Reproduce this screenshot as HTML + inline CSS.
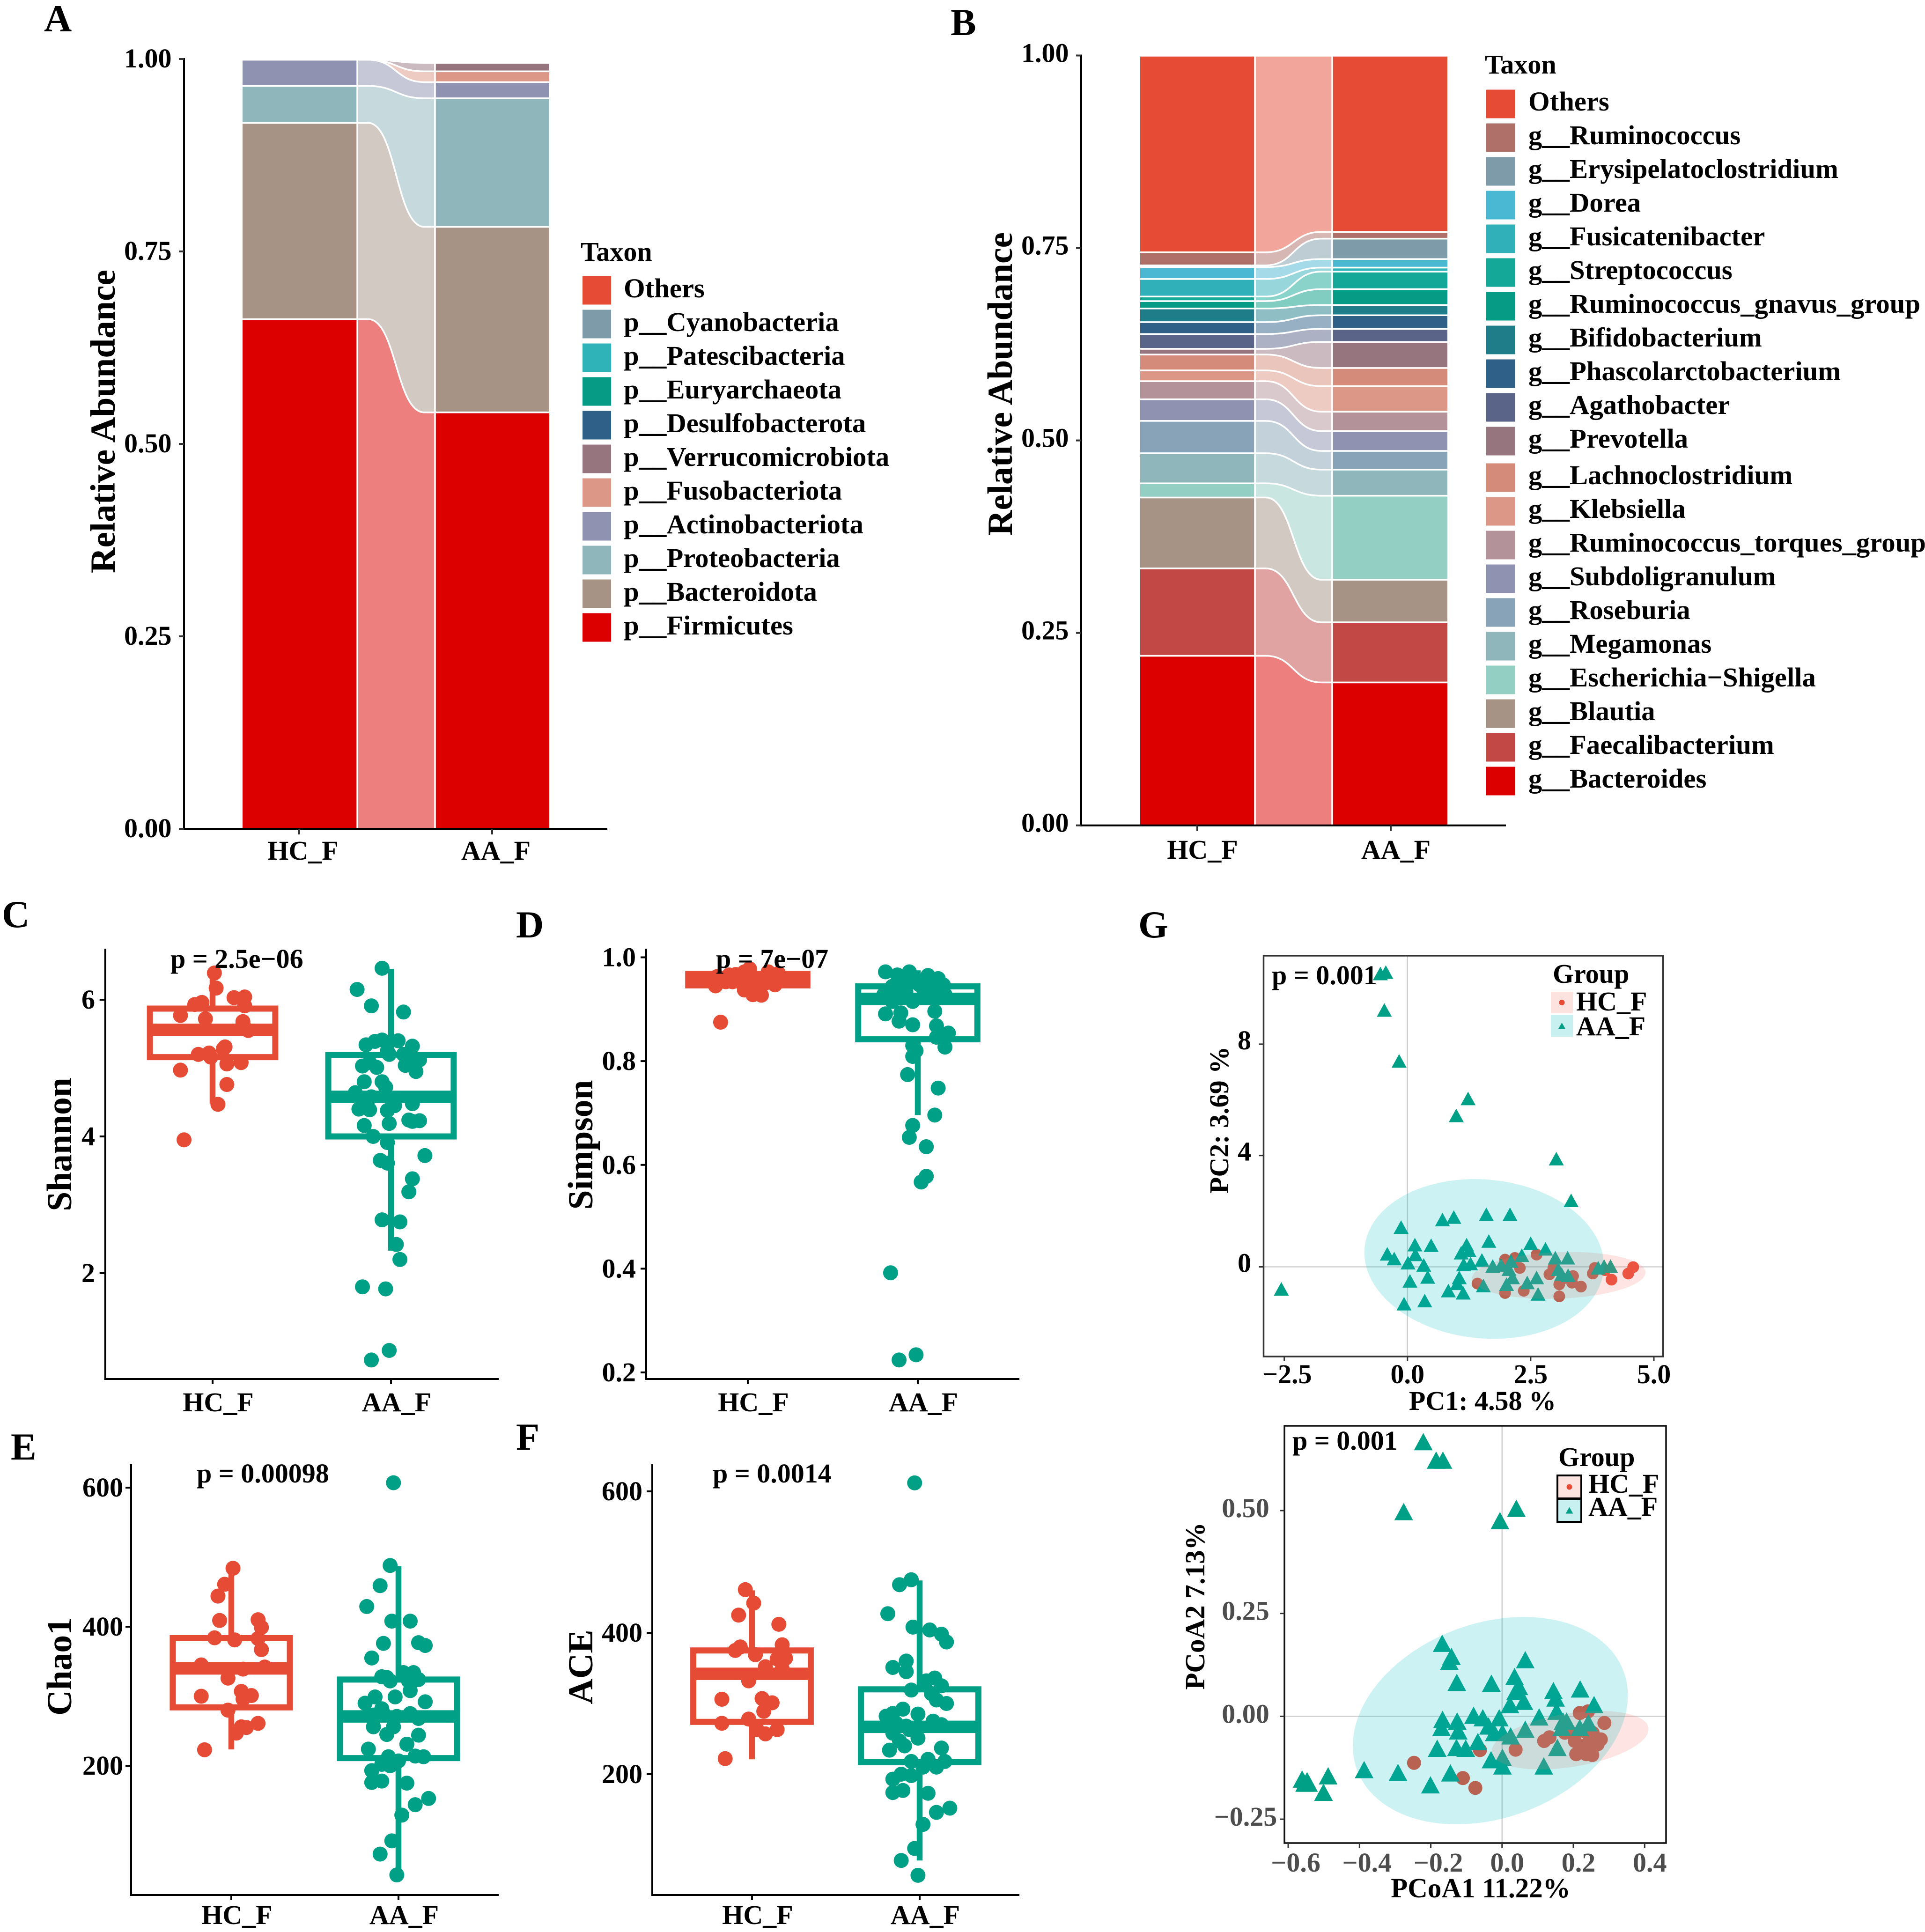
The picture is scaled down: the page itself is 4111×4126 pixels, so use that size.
<!DOCTYPE html>
<html lang="en">
<head>
<meta charset="utf-8">
<title>Microbiome composition and diversity panels</title>
<style>
html,body{margin:0;padding:0;background:#fff;}
svg{display:block;}
text{font-family:"Liberation Serif","DejaVu Serif",serif;font-weight:bold;fill:#000;font-size:58px;}
.letter{font-size:82px;}
.ytitle{font-size:75.5px;text-anchor:middle;}
.gtitle{font-size:58px;text-anchor:middle;}
.gtitle2{font-size:59px;text-anchor:middle;}
.legend-text{font-size:58.7px;}
</style>
</head>
<body>
<svg id="fig" xmlns="http://www.w3.org/2000/svg" width="4111" height="4126" viewBox="0 0 4111 4126">
  <rect x="0" y="0" width="4111" height="4126" fill="#fff"/>
  <g id="panel-a"></g>
  <g id="panel-b"></g>
  <g id="panel-c"></g>
  <g id="panel-d"></g>
  <g id="panel-e"></g>
  <g id="panel-f"></g>
  <g id="panel-g1"></g>
  <g id="panel-g2"></g>

  <text class="letter" x="94" y="67">A</text>
  <text class="letter" x="2030" y="75">B</text>
  <text class="letter" x="4" y="1980">C</text>
  <text class="letter" x="1102" y="2002">D</text>
  <text class="letter" x="23" y="3117">E</text>
  <text class="letter" x="1102" y="3096">F</text>
  <text class="letter" x="2431" y="2002">G</text>

  <text class="ytitle" transform="translate(245,900) rotate(-90)">Relative Abundance</text>
  <text class="ytitle" transform="translate(2161,820) rotate(-90)">Relative Abundance</text>
  <text class="ytitle" transform="translate(152,2444) rotate(-90)">Shannon</text>
  <text class="ytitle" transform="translate(1265,2445) rotate(-90)">Simpson</text>
  <text class="ytitle" transform="translate(152,3559) rotate(-90)">Chao1</text>
  <text class="ytitle" transform="translate(1265,3560) rotate(-90)">ACE</text>
  <text class="gtitle" transform="translate(2623,2392) rotate(-90)">PC2: 3.69 %</text>
  <text class="gtitle" x="3166" y="3011">PC1: 4.58 %</text>
  <text class="gtitle2" transform="translate(2572,3430) rotate(-90)">PCoA2 7.13%</text>
  <text class="gtitle2" x="3162" y="4052">PCoA1 11.22%</text>

  <text x="1240" y="557">Taxon</text>
  <text x="3171" y="157">Taxon</text>
</svg>

<script>
/* ---------- Panel A data (legend order, top to bottom) ---------- */
const taxaA = ['Others','p__Cyanobacteria','p__Patescibacteria','p__Euryarchaeota','p__Desulfobacterota','p__Verrucomicrobiota','p__Fusobacteriota','p__Actinobacteriota','p__Proteobacteria','p__Bacteroidota','p__Firmicutes'];
const hcA = [0,0,0,0,0,0,0,0.034,0.048,0.255,0.662];
const aaA = [0,0,0,0,0,0.011,0.014,0.021,0.167,0.241,0.541];
const colorsA = ['#E64B35','#7d9ba8','#2fb2b8','#069b84','#2f6188','#97757f','#dc9786','#8f92b0','#8eb6bb','#a69385','#dc0000'];

/* ---------- Panel B data ---------- */
const taxaB = ['Others','g__Ruminococcus','g__Erysipelatoclostridium','g__Dorea','g__Fusicatenibacter','g__Streptococcus','g__Ruminococcus_gnavus_group','g__Bifidobacterium','g__Phascolarctobacterium','g__Agathobacter','g__Prevotella','g__Lachnoclostridium','g__Klebsiella','g__Ruminococcus_torques_group','g__Subdoligranulum','g__Roseburia','g__Megamonas','g__Escherichia\u2212Shigella','g__Blautia','g__Faecalibacterium','g__Bacteroides'];
const hcB = [0.2553,0.017,0.0022,0.0155,0.0228,0.0059,0.0096,0.0177,0.0155,0.0192,0.0074,0.0206,0.014,0.0236,0.028,0.042,0.0391,0.0184,0.0921,0.1135,0.2203];
const aaB = [0.2288,0.0088,0.0265,0.0111,0.0052,0.0228,0.0206,0.0133,0.0177,0.0169,0.0339,0.0236,0.0332,0.0251,0.0258,0.0243,0.0339,0.1091,0.0553,0.0781,0.1857];
const colorsB = ['#E64B35','#b0706a','#7d9ba8','#4bb8d3','#30b0b8','#13a898','#069b84','#1f7d8a','#2f6188','#5a6388','#97757f','#d58b7a','#dc9786','#b39299','#8f92b0','#88a3b8','#8eb6bb','#93cfc2','#a69385','#c14844','#dc0000'];

const categories = ['HC_F','AA_F'];
const abundanceTicks = [0,0.25,0.5,0.75,1];
const abundanceTickLabels = ['0.00','0.25','0.50','0.75','1.00'];

/* ---------- Panel C: Shannon ---------- */
const shannonTicks = [2,4,6];
const shannonBoxHC = [4.48,5.16,5.56,5.87,6.40];
const shannonBoxAA = [2.33,4.00,4.58,5.19,6.45];
const shannonHC = [6.39,6.17,6.03,6.04,5.91,5.93,5.96,5.77,5.72,5.68,5.65,5.55,5.31,5.28,5.20,5.22,5.16,5.06,5.08,4.97,4.76,4.47,3.95];
const shannonHCJitter = [.01,.02,.12,.18,.18,-.10,-.06,-.18,-.04,.17,.17,.20,.07,.06,-.08,-.02,-.01,.08,.16,-.18,.08,.03,-.16];
const shannonAA = [6.46,6.15,5.91,5.82,5.41,5.39,5.40,5.34,5.32,5.25,5.20,5.20,5.12,5.13,5.03,5.08,5.01,5.04,4.95,4.80,4.80,4.72,4.64,4.58,4.53,4.40,4.39,4.45,4.38,4.48,4.24,4.23,4.22,4.16,4.19,4.00,3.91,3.65,3.61,3.72,3.38,3.19,2.78,2.75,2.42,2.20,1.80,1.77,0.87,0.73];
const shannonAAJitter = [-.05,-.19,-.11,.07,-.05,-.09,.04,-.14,.12,-.02,-.01,.07,.16,.11,-.16,-.12,-.08,.08,.14,-.15,-.05,-.03,-.20,-.11,-.14,-.18,-.12,.02,-.02,.12,.10,.16,.12,-.15,-.01,-.10,-.02,-.06,-.02,.19,.12,.10,-.05,.05,.03,.05,-.16,-.03,-.01,-.11];

/* ---------- Panel D: Simpson ---------- */
const simpsonTicks = [0.2,0.4,0.6,0.8,1.0];
const simpsonBoxHC = [0.94,0.946,0.956,0.968,0.972];
const simpsonBoxAA = [0.696,0.842,0.920,0.944,0.975];
const simpsonHC = [.963,.945,.966,.967,.953,.972,.978,.950,.937,.928,.927,.972,.969,.947,.959,.953,.941,.950,.875];
const simpsonHCJitter = [-.18,-.19,-.11,-.07,-.09,-.02,.01,.02,-.02,.03,.08,.12,.18,.16,.05,-.13,.04,.10,-.16];
const simpsonAA = [.972,.966,.972,.965,.959,.947,.944,.947,.953,.941,.941,.928,.928,.928,.934,.915,.931,.891,.893,.877,.870,.896,.868,.854,.846,.827,.830,.820,.809,.774,.748,.696,.676,.653,.635,.578,.567,.392,.234,.224,.959,.947,.915];
const simpsonAAJitter = [-.19,-.12,-.05,.06,.12,.15,-.15,-.09,-.02,.03,.08,.16,-.20,-.13,-.07,-.03,.10,-.19,-.10,-.11,-.03,.10,.11,.18,.11,.16,-.03,-.01,-.03,-.06,.12,.10,-.03,-.05,.05,.05,.02,-.16,-.01,-.11,-.07,.01,-.15];

/* ---------- Panel E: Chao1 ---------- */
const chaoTicks = [200,400,600];
const chaoBoxHC = [223.5,284,340,383.5,482];
const chaoBoxAA = [47,211,271,324,487];
const chaoHC = [484,461,444,409,410,399,384,381,383,367,345,342,339,326,307,301,296,300,280,256,261,255,247,223];
const chaoHCJitter = [.01,-.04,-.08,-.07,.16,.18,-.10,.02,.16,.18,-.18,.20,.07,-.02,.06,.12,.07,-.18,-.02,.06,.16,.09,.03,-.16];
const chaoAA = [607,488,459,429,408,408,376,377,373,355,328,327,322,334,334,322,324,308,299,299,292,290,282,273,271,275,268,275,256,256,245,244,231,224,213,207,214,213,200,202,193,176,178,175,153,144,129,92,73,43];
const chaoAAJitter = [-.03,-.05,-.11,-.19,-.04,.07,-.09,.12,.16,-.16,-.10,-.07,-.05,.03,.09,.06,.12,.07,-.14,-.02,.16,-.20,-.10,-.15,-.01,.07,.12,-.09,-.15,-.03,-.07,.12,.05,-.18,-.06,0,.10,.15,-.05,-.10,-.16,-.16,-.10,.05,.18,.10,.02,-.04,-.11,-.01];

/* ---------- Panel F: ACE ---------- */
const aceTicks = [200,400,600];
const aceBoxHC = [221,274,342,375,460];
const aceBoxAA = [78,217,267,320,474];
const aceHC = [461,442,425,412,380,375,383,369,364,363,352,349,332,306,307,301,289,272,278,263,257,263,222];
const aceHCJitter = [-.04,.01,-.08,.16,-.07,-.10,.18,.02,.20,.15,.08,.18,-.02,-.18,.06,.12,.07,-.18,-.02,.15,.08,.03,-.16];
const aceAA = [612,475,468,427,408,404,398,387,360,351,345,332,336,325,319,314,305,300,292,286,282,285,275,270,272,268,258,263,251,247,240,234,237,218,221,218,210,210,198,200,193,174,177,173,152,146,129,95,78,57];
const aceAAJitter = [-.03,-.05,-.12,-.19,-.04,.06,.13,.16,-.08,-.16,-.08,.04,.09,.13,-.05,.07,.10,.16,-.10,-.16,-.20,-.01,.08,.13,-.14,-.08,-.16,-.06,-.01,-.12,-.09,-.18,.13,-.05,.05,.15,.02,.10,-.05,-.11,-.16,-.16,-.10,.05,.18,.10,.02,-.03,-.11,-.01];

/* ---------- Panel G top: PCA ---------- */
const pcaXTicks = [-2.5,0,2.5,5];
const pcaXTickLabels = ['\u22122.5','0.0','2.5','5.0'];
const pcaYTicks = [0,4,8];
const pcaHCx = [1.42,1.98,2.18,2.13,2.28,2.62,2.96,2.88,3.36,3.13,3.08,3.34,3.52,1.98,2.36,3.08,3.80,3.76,4.01,4.14,4.48,4.58];
const pcaHCy = [-.60,.26,.32,.20,-.04,.44,-.04,-.27,-.33,-.45,-.63,-.57,-.71,-.94,-.86,-1.06,-.04,-.24,-.12,-.46,-.24,-.01];
const pcaAAx = [-.44,-.55,-.47,-.17,1.23,.99,3.02,3.32,-2.56,-.13,.71,.94,1.60,2.08,.15,.48,1.65,1.20,1.25,1.09,-.41,-.27,.16,.01,.33,1.14,1.28,1.51,1.73,1.90,2.10,2.50,2.80,2.32,3.00,3.25,3.87,3.99,4.12,2.06,2.13,2.43,2.62,3.06,3.13,3.26,2.01,1.05,1.01,1.54,.83,1.13,2.65,.05,.41,-.07,.35];
const pcaAAy = [10.58,10.53,9.22,7.39,6.04,5.43,3.88,2.38,-.80,1.42,1.69,1.78,1.88,1.88,.79,.77,.92,.79,.58,.50,.46,.29,.44,.14,.06,.08,.11,.24,.02,.06,.20,.84,.64,.41,.32,.32,-.04,.02,.02,-.09,-.39,-.57,-.39,-.09,-.27,-.31,-.63,-.39,-.60,-.68,-.86,-.94,-.98,-.51,-.37,-1.33,-1.22];
const pcaEllipseHC = [3.07,-0.307,1.76,0.843,0.125];
const pcaEllipseAA = [1.555,0.283,2.43,2.87,-0.08];

/* ---------- Panel G bottom: PCoA ---------- */
const pcoaXTicks = [-0.6,-0.4,-0.2,0,0.2,0.4];
const pcoaXTickLabels = ['\u22120.6','\u22120.4','\u22120.2','0.0','0.2','0.4'];
const pcoaYTicks = [-0.25,0,0.25,0.5];
const pcoaYTickLabels = ['\u22120.25','0.00','0.25','0.50'];
const pcoaHCx = [-.247,-.110,-.075,-.062,.038,.118,.133,.218,.241,.287,.176,.204,.231,.254,.277,.259,.268,.227,.208,.236,.253,.222,.194,.245];
const pcoaHCy = [-.113,-.150,-.174,-.082,-.081,-.060,-.051,.008,.012,-.016,-.040,-.060,-.036,-.040,-.056,-.072,-.068,-.072,-.092,-.092,-.094,-.084,-.040,-.060];
const pcoaAAx = [-.221,-.185,-.166,-.276,.040,-.006,-.168,-.142,-.148,-.127,.065,.035,.047,.038,.061,-.030,.022,.144,.150,.219,.258,.153,-.167,-.126,-.170,-.123,-.080,-.054,-.038,-.022,-.008,.001,.024,.065,.104,.171,.181,.167,.218,.242,-.068,-.182,-.128,-.102,-.031,.001,.001,.155,.117,-.145,-.201,-.292,-.387,-.488,-.501,-.561,-.547,-.554,-.543];
const pcoaAAy = [.667,.622,.622,.497,.505,.475,.177,.145,.133,.082,.137,.096,.072,.060,.036,.080,.028,.062,.044,.066,.028,.012,-.008,-.012,-.028,-.036,.002,-.004,-.024,-.040,-.004,-.040,-.048,-.032,-.002,-.012,-.012,-.028,-.028,-.016,-.062,-.078,-.076,-.078,-.106,-.100,-.121,-.076,-.121,-.138,-.167,-.137,-.130,-.145,-.185,-.153,-.157,-.163,-.163];
const pcoaEllipseHC = [0.191,-0.058,0.22,0.071,0.387];
const pcoaEllipseAA = [-0.033,-0.0105,0.386,0.252,0.246];

const HC_COLOR = '#E64B35';
const AA_COLOR = '#00A087';
const NS = 'http://www.w3.org/2000/svg';

function el(tag, attrs, parent, content) {
  const node = document.createElementNS(NS, tag);
  for (const k in attrs) node.setAttribute(k, attrs[k]);
  if (content !== undefined) node.textContent = content;
  parent.appendChild(node);
  return node;
}
function linear(d0, d1, r0, r1) {
  return function (v) { return r0 + (v - d0) * (r1 - r0) / (d1 - d0); };
}

/* Stacked alluvial bars */
function drawAlluvial(g, cfg) {
  const y = linear(0, 1, cfg.y0, cfg.y1);
  let cumHC = 0, cumAA = 0;
  const w = cfg.bar2[0] - cfg.bar1[1];
  const xa = cfg.bar1[1], xb = cfg.bar2[0], mid = (xa + xb) / 2;
  for (let i = cfg.names.length - 1; i >= 0; i--) {
    const h = cfg.hc[i], a = cfg.aa[i];
    const b0 = y(cumHC), t0 = y(cumHC + h), b1 = y(cumAA), t1 = y(cumAA + a);
    cumHC += h; cumAA += a;
    if (h + a > 0) {
      const d = 'M' + xa + ' ' + t0 + ' L' + (xa + w * 0.14) + ' ' + t0 +
        ' C' + mid + ' ' + t0 + ' ' + mid + ' ' + t1 + ' ' + (xb - w * 0.14) + ' ' + t1 +
        ' L' + xb + ' ' + t1 + ' L' + xb + ' ' + b1 + ' L' + (xb - w * 0.14) + ' ' + b1 +
        ' C' + mid + ' ' + b1 + ' ' + mid + ' ' + b0 + ' ' + (xa + w * 0.14) + ' ' + b0 +
        ' L' + xa + ' ' + b0 + ' Z';
      const flow = el('path', {d: d, fill: cfg.colors[i], 'fill-opacity': 0.5, stroke: '#fff', 'stroke-width': 3.5}, g);
      
      
    }
    if (h > 0) {
      const r1 = el('rect', {x: cfg.bar1[0] - 1.75, y: t0, width: cfg.bar1[1] - cfg.bar1[0] + 1.75, height: b0 - t0, fill: cfg.colors[i], stroke: '#fff', 'stroke-width': 3.5}, g);
      
      
    }
    if (a > 0) {
      const r2 = el('rect', {x: cfg.bar2[0], y: t1, width: cfg.bar2[1] - cfg.bar2[0] + 1.75, height: b1 - t1, fill: cfg.colors[i], stroke: '#fff', 'stroke-width': 3.5}, g);
      
      
    }
  }
  const ax = el('line', {x1: cfg.axisX, x2: cfg.axisX, y1: cfg.y1 - 2, y2: cfg.y0 + 2, stroke: '#000', 'stroke-width': 4}, g);
  
  
  const bx = el('line', {x1: cfg.axisX - 2, x2: cfg.axisEnd, y1: cfg.y0, y2: cfg.y0, stroke: '#000', 'stroke-width': 4}, g);
  
  
  abundanceTicks.forEach(function (t, i) {
    const tk = el('line', {x1: cfg.axisX - 11, x2: cfg.axisX, y1: y(t), y2: y(t), stroke: '#333', 'stroke-width': 4}, g);
    
    
    const lb = el('text', {x: cfg.axisX - 26.5, y: y(t) + cfg.labDy, 'text-anchor': 'end'}, g, abundanceTickLabels[i]);
    
    
  });
  categories.forEach(function (c, i) {
    const cx = cfg.ticks[i];
    const tk = el('line', {x1: cx, x2: cx, y1: cfg.y0, y2: cfg.y0 + 12, stroke: '#333', 'stroke-width': 4}, g);
    
    
    const lb = el('text', {x: cx + cfg.xLabOff, y: cfg.xLabY, 'text-anchor': 'middle'}, g, c);
    
    
  });
  cfg.names.forEach(function (n, i) {
    const c = cfg.rowY(i);
    const key = el('rect', {x: cfg.keyX, y: c - 30.5, width: cfg.keyW, height: 61, fill: cfg.colors[i]}, g);
    
    
    const lab = el('text', {x: cfg.textX, y: c + cfg.textDy, class: 'legend-text'}, g, n);
    
    
  });
}

drawAlluvial(document.getElementById('panel-a'), {
  names: taxaA, hc: hcA, aa: aaA, colors: colorsA,
  y0: 1770, y1: 126, axisX: 393, axisEnd: 1297, bar1: [518, 763], bar2: [929, 1173], ticks: [639, 1051],
  labDy: 18, xLabOff: 8, xLabY: 1836,
  keyX: 1244, keyW: 61, textX: 1332, textDy: 15, rowY: function (i) { return 620 + 72 * i; }
});
drawAlluvial(document.getElementById('panel-b'), {
  names: taxaB, hc: hcB, aa: aaB, colors: colorsB,
  y0: 1762.7, y1: 118.5, axisX: 2309, axisEnd: 3216, bar1: [2435, 2680], bar2: [2845, 3091], ticks: [2557, 2970],
  labDy: 14, xLabOff: 11, xLabY: 1834,
  keyX: 3174, keyW: 62, textX: 3264, textDy: 14, rowY: function (i) { return i < 11 ? 222 + 72 * i : 1020 + 72 * (i - 11); }
});

/* Box + jitter panels */
function drawBoxPanel(g, cfg) {
  const y = linear(cfg.d0, cfg.d1, cfg.r0, cfg.r1);
  const spacing = cfg.xTicks[1] - cfg.xTicks[0];
  const ax = el('line', {x1: cfg.axisX, x2: cfg.axisX, y1: 2026 + cfg.topShift, y2: cfg.baseY + 2, stroke: '#000', 'stroke-width': 4}, g);
  
  
  const bx = el('line', {x1: cfg.axisX - 2, x2: cfg.axisEnd, y1: cfg.baseY, y2: cfg.baseY, stroke: '#000', 'stroke-width': 4}, g);
  
  
  cfg.ticks.forEach(function (t) {
    const tk = el('line', {x1: cfg.axisX - 12, x2: cfg.axisX, y1: y(t), y2: y(t), stroke: '#000', 'stroke-width': 4}, g);
    
    
    const lb = el('text', {x: cfg.labelX, y: y(t) + 19, 'text-anchor': 'end'}, g, cfg.fmt(t));
    
    
  });
  categories.forEach(function (c, i) {
    const cx = cfg.xTicks[i];
    const tk = el('line', {x1: cx, x2: cx, y1: cfg.baseY, y2: cfg.baseY + 11, stroke: '#000', 'stroke-width': 4}, g);
    
    
    const lb = el('text', {x: cx + 12, y: cfg.xLabelY, 'text-anchor': 'middle'}, g, c);
    
    
  });
  [[cfg.boxHC, HC_COLOR, 0, cfg.hc, cfg.hcJ, 'hc'], [cfg.boxAA, AA_COLOR, 1, cfg.aa, cfg.aaJ, 'aa']].forEach(function (s) {
    const b = s[0], col = s[1], cx = cfg.xTicks[s[2]];
    const half = spacing * 0.3685 - 6.5;
    const wh = el('line', {x1: cx, x2: cx, y1: y(b[4]), y2: y(b[0]), stroke: col, 'stroke-width': 12.5}, g);
    
    
    const box = el('rect', {x: cx - half, y: y(b[3]), width: half * 2, height: y(b[1]) - y(b[3]), fill: '#fff', stroke: col, 'stroke-width': 13}, g);
    
    
    const med = el('line', {x1: cx - half, x2: cx + half, y1: y(b[2]), y2: y(b[2]), stroke: col, 'stroke-width': 26.5}, g);
    
    
    s[3].forEach(function (v, i) {
      const p = el('circle', {cx: cx + s[4][i] * spacing, cy: y(v), r: 16, fill: col}, g);
      
      
    });
  });
  const pt = el('text', {x: cfg.pX, y: cfg.pY}, g, cfg.pText);
  
  
}
function intFmt(t) { return String(t); }
function dec1(t) { return t.toFixed(1); }

drawBoxPanel(document.getElementById('panel-c'), {
  d0: 2, d1: 6, r0: 2719, r1: 2135, axisX: 224.7, axisEnd: 1065, baseY: 2945, topShift: 0, labelX: 203, xLabelY: 3014,
  xTicks: [454, 835], ticks: shannonTicks, fmt: intFmt,
  boxHC: shannonBoxHC, boxAA: shannonBoxAA, hc: shannonHC, hcJ: shannonHCJitter, aa: shannonAA, aaJ: shannonAAJitter,
  pX: 364, pY: 2067, pText: 'p = 2.5e\u221206'
});
drawBoxPanel(document.getElementById('panel-d'), {
  d0: 0.2, d1: 1.0, r0: 2931, r1: 2044.5, axisX: 1380, axisEnd: 2177, baseY: 2945, topShift: 0, labelX: 1358, xLabelY: 3014,
  xTicks: [1597, 1960], ticks: simpsonTicks, fmt: dec1,
  boxHC: simpsonBoxHC, boxAA: simpsonBoxAA, hc: simpsonHC, hcJ: simpsonHCJitter, aa: simpsonAA, aaJ: simpsonAAJitter,
  pX: 1529, pY: 2067, pText: 'p = 7e\u221207'
});
drawBoxPanel(document.getElementById('panel-e'), {
  d0: 200, d1: 600, r0: 3771, r1: 3177, axisX: 280, axisEnd: 1065, baseY: 4047, topShift: 1100, labelX: 263, xLabelY: 4109,
  xTicks: [494, 851], ticks: chaoTicks, fmt: intFmt,
  boxHC: chaoBoxHC, boxAA: chaoBoxAA, hc: chaoHC, hcJ: chaoHCJitter, aa: chaoAA, aaJ: chaoAAJitter,
  pX: 420, pY: 3166, pText: 'p = 0.00098'
});
drawBoxPanel(document.getElementById('panel-f'), {
  d0: 200, d1: 600, r0: 3789, r1: 3185, axisX: 1393, axisEnd: 2177, baseY: 4047, topShift: 1100, labelX: 1372, xLabelY: 4109,
  xTicks: [1606, 1964], ticks: aceTicks, fmt: intFmt,
  boxHC: aceBoxHC, boxAA: aceBoxAA, hc: aceHC, hcJ: aceHCJitter, aa: aceAA, aaJ: aceAAJitter,
  pX: 1522, pY: 3166, pText: 'p = 0.0014'
});

/* Ordination panels */
function ellipsePoints(e, sx, sy) {
  const pts = [];
  for (let k = 0; k < 90; k++) {
    const t = k / 90 * Math.PI * 2;
    pts.push(sx(e[0] + e[2] * Math.cos(t)) + ',' + sy(e[1] + e[3] * Math.sin(t + e[4])));
  }
  return pts.join(' ');
}
function tri(cx, cy, hw, up, dn) {
  return (cx - hw) + ',' + (cy + dn) + ' ' + (cx + hw) + ',' + (cy + dn) + ' ' + cx + ',' + (cy - up);
}
function drawOrd(g, c) {
  const sx = c.sx, sy = c.sy;
  const bg1 = el('line', {x1: sx(0), x2: sx(0), y1: c.box[1], y2: c.box[3], stroke: '#cfcfcf', 'stroke-width': 2.5}, g);
  
  
  const bg2 = el('line', {x1: c.box[0], x2: c.box[2], y1: sy(0), y2: sy(0), stroke: '#cfcfcf', 'stroke-width': 2.5}, g);
  
  
  c.hcx.forEach(function (v, i) {
    const p = el('circle', {cx: sx(v), cy: sy(c.hcy[i]), r: c.r, fill: HC_COLOR}, g);
    
    
  });
  c.aax.forEach(function (v, i) {
    const p = el('polygon', {points: tri(sx(v), sy(c.aay[i]), c.hw, c.up, c.dn), fill: AA_COLOR}, g);
    
    
  });
  const e1 = el('polygon', {points: ellipsePoints(c.eHC, sx, sy), fill: '#F8766D', 'fill-opacity': 0.2}, g);
  
  
  const e2 = el('polygon', {points: ellipsePoints(c.eAA, sx, sy), fill: '#00BFC4', 'fill-opacity': 0.2}, g);
  
  
  const border = el('rect', {x: c.box[0], y: c.box[1], width: c.box[2] - c.box[0], height: c.box[3] - c.box[1], fill: 'none', stroke: c.border, 'stroke-width': 3.5}, g);
  
  
  c.xt.forEach(function (t, i) {
    const tk = el('line', {x1: sx(t), x2: sx(t), y1: c.box[3], y2: c.box[3] + 10, stroke: '#333', 'stroke-width': 3}, g);
    
    
    const lb = el('text', {x: sx(t) + c.xOff(t), y: c.xLabelY, 'text-anchor': 'middle', style: 'fill:' + c.tickColor}, g, c.xl[i]);
    
    
  });
  c.yt.forEach(function (t, i) {
    const tk = el('line', {x1: c.box[0] - 10, x2: c.box[0], y1: sy(t), y2: sy(t), stroke: '#333', 'stroke-width': 3}, g);
    
    
    const lb = el('text', {x: c.yLabelX, y: sy(t) + c.yLabelDy, 'text-anchor': c.yAnchor, style: 'fill:' + c.tickColor}, g, c.yl[i]);
    
    
  });
  const pv = el('text', {x: c.pX, y: c.pY}, g, 'p = 0.001');
  
  
  const lt = el('text', {x: c.leg.titleX, y: c.leg.titleY}, g, 'Group');
  
  
  const k1 = el('rect', {x: c.leg.x, y: c.leg.y1, width: c.leg.w, height: c.leg.h, fill: '#fde3e0', stroke: c.leg.stroke, 'stroke-width': c.leg.sw}, g);
  
  
  const k2 = el('rect', {x: c.leg.x, y: c.leg.y2, width: c.leg.w, height: c.leg.h, fill: '#c9f0f0', stroke: c.leg.stroke, 'stroke-width': c.leg.sw}, g);
  
  
  const mx = c.leg.x + c.leg.w / 2;
  const m1 = el('circle', {cx: mx, cy: c.leg.y1 + c.leg.h / 2, r: 6, fill: HC_COLOR}, g);
  
  
  const m2 = el('polygon', {points: tri(mx, c.leg.y2 + c.leg.h / 2, 8, 7, 7), fill: AA_COLOR}, g);
  
  
  const l1 = el('text', {x: c.leg.textX, y: c.leg.b1}, g, categories[0]);
  
  
  const l2 = el('text', {x: c.leg.textX, y: c.leg.b2}, g, categories[1]);
  
  
}

drawOrd(document.getElementById('panel-g1'), {
  sx: linear(0, 5, 3005.8, 3532), sy: linear(0, 8, 2705.5, 2229.9),
  box: [2698.5, 2041, 3551.5, 2897], border: '#333', tickColor: '#000',
  hcx: pcaHCx, hcy: pcaHCy, aax: pcaAAx, aay: pcaAAy, r: 12.5, hw: 16, up: 15, dn: 14,
  eHC: pcaEllipseHC, eAA: pcaEllipseAA,
  xt: pcaXTicks, xl: pcaXTickLabels, xLabelY: 2954, xOff: function (t) { return t < 0 ? 6 : 0; },
  yt: pcaYTicks, yl: pcaYTicks.map(String), yLabelX: 2672, yLabelDy: 11, yAnchor: 'end',
  pX: 2716, pY: 2102,
  leg: {titleX: 3316, titleY: 2099, x: 3312, y1: 2118, y2: 2168, w: 47, h: 46, stroke: 'none', sw: 0, textX: 3366, b1: 2158, b2: 2211}
});
drawOrd(document.getElementById('panel-g2'), {
  sx: linear(0, 0.4, 3207.8, 3512.3), sy: linear(0, 0.5, 3665.4, 3226),
  box: [2743, 3045, 3558, 3936], border: '#111', tickColor: '#4d4d4d',
  hcx: pcoaHCx, hcy: pcoaHCy, aax: pcoaAAx, aay: pcoaAAy, r: 15, hw: 20, up: 19, dn: 18,
  eHC: pcoaEllipseHC, eAA: pcoaEllipseAA,
  xt: pcoaXTicks, xl: pcoaXTickLabels, xLabelY: 3997, xOff: function (t) { return t < 0 ? 16 : 11; },
  yt: pcoaYTicks, yl: pcoaYTickLabels, yLabelX: 2660, yLabelDy: 14, yAnchor: 'middle',
  pX: 2760, pY: 3096,
  leg: {titleX: 3328, titleY: 3131, x: 3326, y1: 3151, y2: 3201, w: 51, h: 49, stroke: '#000', sw: 4, textX: 3392, b1: 3188, b2: 3237}
});
</script>
</body>
</html>
